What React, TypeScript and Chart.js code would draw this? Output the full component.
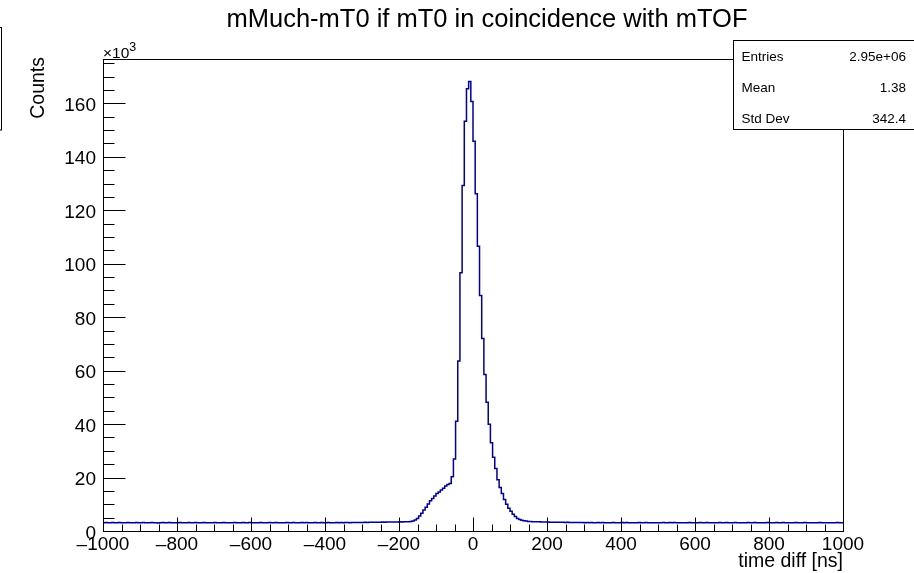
import React, { useEffect, useRef } from "react";
import { Chart, registerables } from "chart.js";

Chart.register(...registerables);

// Histogram binning: 340 bins from -1000 ns to 1000 ns
const X_MIN = -1000;
const X_MAX = 1000;
const Y_MIN = 0;
const Y_MAX = 176600;

// Flat background below the peak (bins 0..142)
const backgroundLow = [
  3120, 3080, 3150, 3100, 3060, 3140, 3110, 3090, 3170, 3100,
  3050, 3130, 3160, 3080, 3110, 3070, 3140, 3120, 3090, 3150,
  3100, 3060, 3130, 3180, 3090, 3110, 3040, 3120, 3160, 3080,
  3110, 3140, 3070, 3100, 3130, 3090, 3150, 3060, 3120, 3100,
  3170, 3080, 3110, 3140, 3050, 3120, 3090, 3160, 3100, 3130,
  3070, 3110, 3150, 3090, 3120, 3060, 3140, 3100, 3080, 3130,
  3110, 3160, 3090, 3050, 3120, 3140, 3080, 3110, 3170, 3100,
  3130, 3070, 3100, 3150, 3090, 3120, 3060, 3140, 3110, 3080,
  3150, 3100, 3130, 3070, 3120, 3160, 3090, 3110, 3140, 3080,
  3120, 3100, 3170, 3090, 3140, 3110, 3060, 3130, 3150, 3100,
  3100, 3140, 3080, 3120, 3160, 3100, 3130, 3090, 3150, 3120,
  3170, 3110, 3140, 3180, 3130, 3160, 3200, 3150, 3190, 3220,
  3180, 3230, 3210, 3260, 3240, 3280, 3250, 3300, 3290, 3330,
  3310, 3350, 3340, 3380, 3360, 3400, 3390, 3420, 3410, 3440,
  3450, 3480, 3520,
];

// Coincidence peak with its left shoulder (bins 143..196)
const peakCounts = [
  3700, 4100, 4700, 5600, 6600, 7900, 8900, 10100, 11300, 12200,
  13100, 14000, 14600, 15300, 16000, 16800, 17400, 17800, 20300, 26900,
  41100, 63600, 96600, 129300, 153300, 165500, 168200, 160700, 145800, 126200,
  106500, 88100, 72000, 58600, 48200, 39900, 33000, 27600, 23400, 19200,
  16300, 14000, 11800, 10000, 8500, 7400, 6300, 5400, 4700, 4300,
  4000, 3800, 3700, 3600,
];

// Flat background above the peak (bins 197..339)
const backgroundHigh = [
  3550, 3500, 3480, 3440, 3420, 3400, 3370, 3380, 3340, 3320,
  3300, 3310, 3270, 3280, 3240, 3250, 3220, 3230, 3190, 3210,
  3180, 3160, 3190, 3140, 3170, 3120, 3150, 3110, 3160, 3130,
  3100, 3140, 3090, 3150, 3120, 3080, 3130, 3110, 3160, 3090,
  3120, 3070, 3140, 3100, 3150, 3080, 3110, 3130, 3060, 3120,
  3140, 3090, 3110, 3160, 3080, 3120, 3100, 3050, 3130, 3110,
  3090, 3150, 3120, 3070, 3140, 3100, 3160, 3080, 3110, 3130,
  3060, 3120, 3100, 3150, 3090, 3130, 3070, 3110, 3140, 3100,
  3080, 3160, 3120, 3090, 3130, 3060, 3110, 3150, 3100, 3070,
  3140, 3110, 3080, 3120, 3170, 3090, 3100, 3130, 3060, 3120,
  3150, 3080, 3110, 3140, 3090, 3120, 3060, 3130, 3100, 3160,
  3070, 3110, 3090, 3140, 3120, 3080, 3150, 3100, 3060, 3130,
  3110, 3090, 3140, 3070, 3120, 3100, 3150, 3080, 3110, 3130,
  3060, 3120, 3090, 3140, 3100, 3070, 3130, 3110, 3080, 3120,
  3100, 3140, 3090,
];

const xMajorTicks = [-1000, -800, -600, -400, -200, 0, 200, 400, 600, 800, 1000];
const xTickLabels = ["\u20131000", "\u2013800", "\u2013600", "\u2013400", "\u2013200", "0", "200", "400", "600", "800", "1000"];
const yMajorTicks = [0, 20000, 40000, 60000, 80000, 100000, 120000, 140000, 160000];
const yTickLabels = ["0", "20", "40", "60", "80", "100", "120", "140", "160"];
const X_MINOR_STEP = 50;
const Y_MINOR_STEP = 5000;

const TITLE = "mMuch-mT0 if mT0 in coincidence with mTOF";
const X_TITLE = "time diff [ns]";
const Y_TITLE = "Counts";
const statNames = ["Entries", "Mean", "Std Dev"];
const statValues = ["2.95e+06", "1.38", "342.4"];

const FONT = "'Liberation Sans', Arial, Helvetica, sans-serif";
const LINE_COLOR = "#000099";

export default function App() {
  const canvasRef = useRef<HTMLCanvasElement | null>(null);

  useEffect(() => {
    const canvas = canvasRef.current;
    if (!canvas) return;

    const counts = [...backgroundLow, ...peakCounts, ...backgroundHigh];
    const binWidth = (X_MAX - X_MIN) / counts.length;
    const points = counts.map((c, i) => ({ x: X_MIN + i * binWidth, y: c }));
    points.push({ x: X_MAX, y: counts[counts.length - 1] });

    // Frame, inward ticks, labels, title and the statistics box
    const rootStyle = {
      id: "rootStyle",
      afterDraw(chart: any) {
        const ctx = chart.ctx as CanvasRenderingContext2D;
        const xs = chart.scales.x;
        const ys = chart.scales.y;
        const { left, right, top, bottom } = chart.chartArea;
        const L = Math.round(left) + 0.5;
        const R = Math.round(right) + 0.5;
        const T = Math.round(top) + 0.5;
        const B = Math.round(bottom) + 0.5;

        ctx.save();
        ctx.strokeStyle = "#000";
        ctx.lineWidth = 1;
        ctx.strokeRect(L, T, R - L, B - T);

        // x ticks
        ctx.beginPath();
        for (let v = X_MIN; v <= X_MAX + 1e-6; v += X_MINOR_STEP) {
          const px = Math.round(xs.getPixelForValue(v)) + 0.5;
          const major = Math.abs(v % 200) < 1e-6;
          ctx.moveTo(px, B);
          ctx.lineTo(px, B - (major ? 14 : 7));
        }
        // y ticks
        for (let v = Y_MIN; v <= Y_MAX; v += Y_MINOR_STEP) {
          const py = Math.round(ys.getPixelForValue(v)) + 0.5;
          const major = v % 20000 === 0;
          ctx.moveTo(L, py);
          ctx.lineTo(L + (major ? 22 : 11), py);
        }
        ctx.stroke();

        ctx.fillStyle = "#000";
        // x tick labels
        ctx.font = `19px ${FONT}`;
        ctx.textAlign = "center";
        ctx.textBaseline = "alphabetic";
        xMajorTicks.forEach((v, i) => {
          ctx.fillText(xTickLabels[i], xs.getPixelForValue(v), bottom + 19);
        });
        // y tick labels
        ctx.textAlign = "right";
        yMajorTicks.forEach((v, i) => {
          ctx.fillText(yTickLabels[i], left - 7, ys.getPixelForValue(v) + 7.5);
        });

        // exponent marker
        ctx.textAlign = "left";
        ctx.font = `15.5px ${FONT}`;
        ctx.fillText("\u00d710", left, top - 1);
        const w = ctx.measureText("\u00d710").width;
        ctx.font = `12.5px ${FONT}`;
        ctx.fillText("3", left + w, top - 8);

        // axis titles
        ctx.font = `19.5px ${FONT}`;
        ctx.textAlign = "right";
        ctx.fillText(X_TITLE, right, bottom + 36);
        ctx.save();
        ctx.translate(44, top - 2);
        ctx.rotate(-Math.PI / 2);
        ctx.textAlign = "right";
        ctx.fillText(Y_TITLE, 0, 0);
        ctx.restore();

        // title
        ctx.font = `25.5px ${FONT}`;
        ctx.textAlign = "center";
        ctx.fillText(TITLE, 487, 27);

        // statistics box
        ctx.fillStyle = "#fff";
        ctx.fillRect(733.5, 40.5, 200, 89);
        ctx.strokeRect(733.5, 40.5, 200, 89);
        ctx.fillStyle = "#000";
        ctx.font = `13.5px ${FONT}`;
        const rows = [61, 92, 123];
        statNames.forEach((name, i) => {
          ctx.textAlign = "left";
          ctx.fillText(name, 741.5, rows[i]);
          ctx.textAlign = "right";
          ctx.fillText(statValues[i], 906, rows[i]);
        });

        // edge of the neighbouring pad's box
        ctx.strokeRect(-20.5, 27.5, 22, 102.5);
        ctx.restore();
      },
    };

    const chart = new Chart(canvas, {
      type: "line",
      data: {
        datasets: [
          {
            data: points,
            borderColor: LINE_COLOR,
            borderWidth: 1.5,
            stepped: "after",
            pointRadius: 0,
            fill: false,
            tension: 0,
          },
        ],
      },
      options: {
        animation: false,
        responsive: false,
        devicePixelRatio: 1,
        layout: { padding: { left: 103, top: 59, right: 71, bottom: 42 } },
        scales: {
          x: { type: "linear", min: X_MIN, max: X_MAX, display: false },
          y: { type: "linear", min: Y_MIN, max: Y_MAX, display: false },
        },
        plugins: {
          legend: { display: false },
          tooltip: { enabled: false },
          title: { display: false },
        },
      },
      plugins: [rootStyle],
    });

    return () => chart.destroy();
  }, []);

  return (
    <div style={{ position: "fixed", left: 0, top: 0, width: 914, height: 573, background: "#fff" }}>
      <canvas ref={canvasRef} width={914} height={573} style={{ display: "block" }} />
    </div>
  );
}
